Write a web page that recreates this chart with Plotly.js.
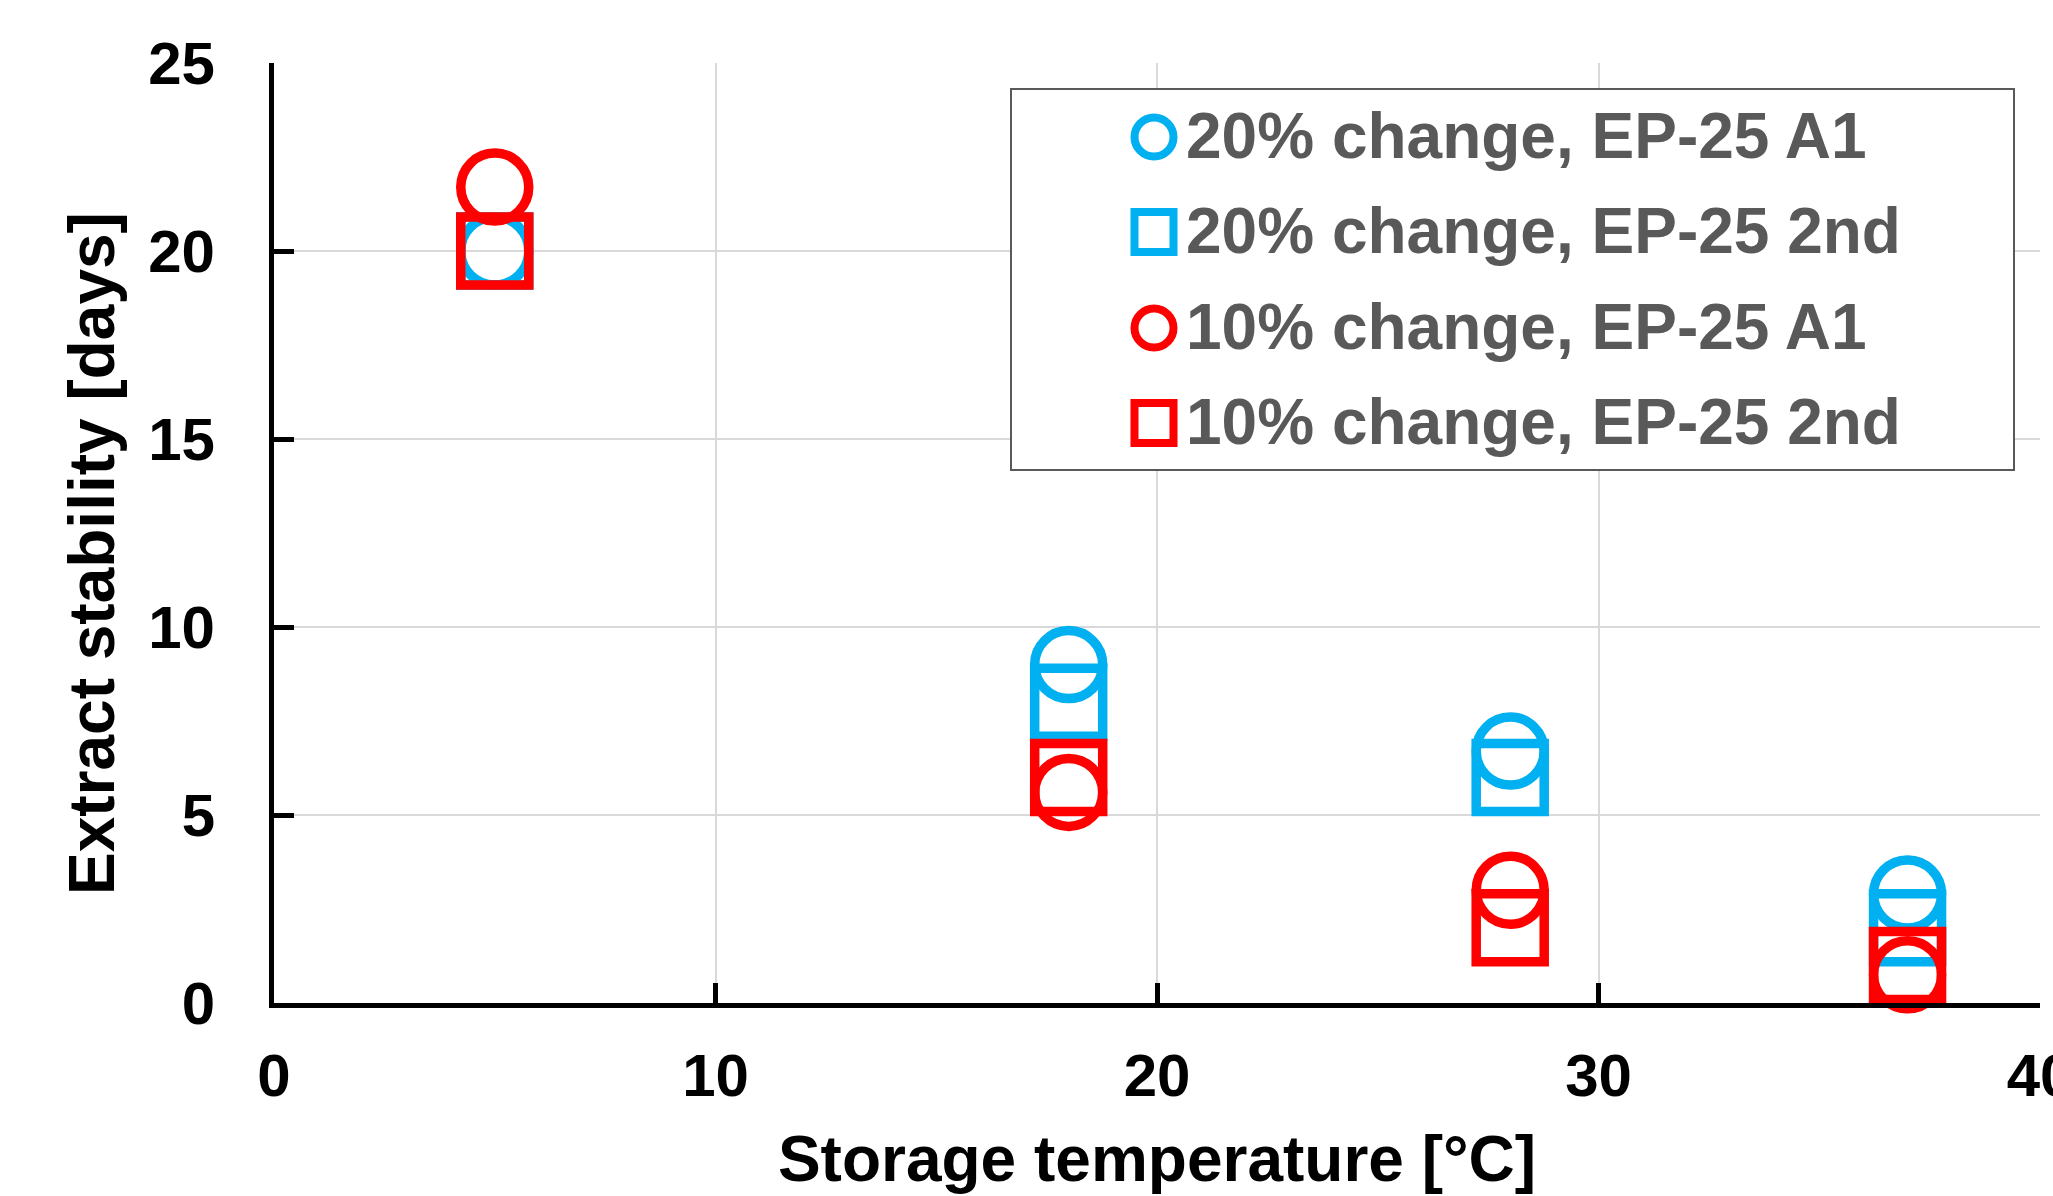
<!DOCTYPE html>
<html>
<head>
<meta charset="utf-8">
<script src="https://cdn.plot.ly/plotly-3.0.1.min.js"></script>
<style>html,body{margin:0;padding:0;background:#fff;}</style>
</head>
<body>
<div id="chart" style="width:2053px;height:1196px;"></div>
<script>
// ---- data ----
const temperatures = [5, 18, 28, 37];
const blueA1 = [20.0, 9.0, 6.7, 2.9];
const blue2nd = [20.0, 8.0, 6.0, 2.0];
const redA1 = [21.7, 5.6, 3.0, 0.75];
const red2nd = [20.0, 6.0, 2.0, 1.0];
const seriesNames = ["20% change, EP-25 A1", "20% change, EP-25 2nd", "10% change, EP-25 A1", "10% change, EP-25 2nd"];
const seriesValues = [blueA1, blue2nd, redA1, red2nd];
const xTicks = [0, 10, 20, 30, 40];
const yTicks = [0, 5, 10, 15, 20, 25];
const xTitle = "Storage temperature [°C]";
const yTitle = "Extract stability [days]";

const BLUE = "#00B0F0", RED = "#FF0000";
const colors = [BLUE, BLUE, RED, RED];
const symbols = ["circle-open", "square-open", "circle-open", "square-open"];
const FONT = "Liberation Sans, Arial, Helvetica, sans-serif";

const traces = seriesValues.map((vals, i) => ({
  type: "scatter",
  mode: "markers",
  x: temperatures,
  y: vals,
  name: seriesNames[i],
  cliponaxis: false,
  showlegend: false,
  marker: {symbol: symbols[i], size: 68, color: colors[i], line: {color: colors[i], width: 9.5}}
}));

// custom legend (box, icons, labels) in paper coordinates
const W = 2053, H = 1196, ML = 274, MR = 13, MT = 63, MB = 193;
const pw = W - ML - MR, ph = H - MT - MB;
const px = v => (v - ML) / pw;
const py = v => (H - MB - v) / ph;

const shapes = [{
  type: "rect", xref: "paper", yref: "paper", layer: "above",
  x0: px(1011), x1: px(2014), y0: py(470), y1: py(89),
  line: {color: "#595959", width: 2}, fillcolor: "#ffffff"
}];
const annotations = [];
const rowY = [137, 232, 328, 423];
seriesNames.forEach((nm, i) => {
  const isCircle = symbols[i].startsWith("circle");
  const half = 19.5;
  shapes.push({
    type: isCircle ? "circle" : "rect", xref: "paper", yref: "paper", layer: "above",
    xsizemode: "pixel", ysizemode: "pixel",
    xanchor: px(1154), yanchor: py(rowY[i]),
    x0: -half, x1: half, y0: -(isCircle ? half : 20), y1: (isCircle ? half : 20),
    line: {color: colors[i], width: 8}, fillcolor: "rgba(0,0,0,0)"
  });
  annotations.push({
    xref: "paper", yref: "paper", x: px(1184), y: py(rowY[i] - 1),
    xanchor: "left", yanchor: "middle", showarrow: false, text: nm,
    font: {family: FONT, size: 64, color: "#595959", weight: "bold"}
  });
});
annotations.push({
  xref: "paper", yref: "paper", x: px(92), y: py(554),
  xanchor: "center", yanchor: "middle", showarrow: false, textangle: -90, text: yTitle,
  font: {family: FONT, size: 64, color: "#000000", weight: "bold"}
});

const layout = {
  width: W, height: H,
  margin: {l: ML, r: MR, t: MT, b: MB, pad: 0},
  paper_bgcolor: "#ffffff", plot_bgcolor: "#ffffff",
  showlegend: false,
  font: {family: FONT, color: "#000000", weight: "bold"},
  xaxis: {
    range: [0, 40], tickvals: xTicks, ticktext: xTicks.map(String),
    showgrid: true, gridcolor: "#d9d9d9", gridwidth: 2,
    zeroline: false, showline: true, linecolor: "#000000", linewidth: 5,
    ticks: "inside", ticklen: 20, tickwidth: 5, tickcolor: "#000000",
    tickfont: {family: FONT, size: 60, color: "#000000", weight: "bold"},
    ticklabelstandoff: 16, ticklabeloverflow: "allow",
    title: {text: xTitle, font: {family: FONT, size: 64, color: "#000000", weight: "bold"}, standoff: 30}
  },
  yaxis: {
    range: [0, 25], tickvals: yTicks, ticktext: yTicks.map(String),
    showgrid: true, gridcolor: "#d9d9d9", gridwidth: 2,
    zeroline: false, showline: true, linecolor: "#000000", linewidth: 5,
    ticks: "inside", ticklen: 20, tickwidth: 5, tickcolor: "#000000",
    tickfont: {family: FONT, size: 60, color: "#000000", weight: "bold"},
    ticklabelstandoff: 42, ticklabeloverflow: "allow"
  },
  shapes: shapes,
  annotations: annotations
};

Plotly.newPlot("chart", traces, layout, {displayModeBar: false, staticPlot: true});
</script>
</body>
</html>
